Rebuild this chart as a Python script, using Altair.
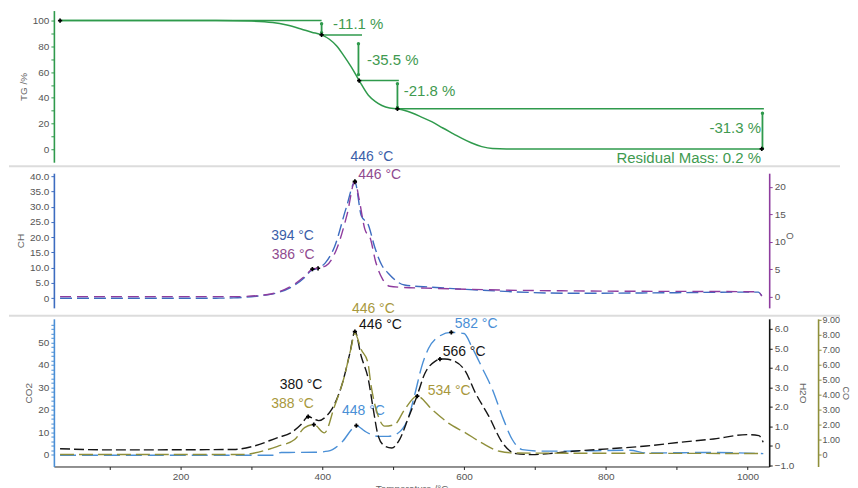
import altair as alt
import pandas as pd

# ---------------- data ----------------
# TG curve (temperature °C, mass %)
TG_T = [30, 250, 300, 330, 350, 370, 385, 399, 410, 420, 430, 441, 452, 465, 475, 484, 495, 506, 520, 540, 555, 570, 585, 597, 610, 625, 640, 660, 1020]
TG_V = [100, 100, 99.6, 98.5, 96.5, 93.5, 91, 88.9, 85.5, 80.5, 73, 63.8, 53.4, 42, 37, 34, 32, 31.4, 29.5, 25, 21.2, 16.5, 12, 8.4, 5, 2, 0.5, 0.2, 0.2]
TG_STEP_T1 = [30, 399, 452, 506]
TG_STEP_T2 = [399, 456, 508, 1023]
TG_STEP_V = [100, 88.9, 53.4, 31.4]
TG_ARROW_T = [399, 451, 506, 1021]
TG_ARROW_TOP = [97.5, 82, 51, 28]
TG_ARROW_BOT = [90.5, 58, 32.5, 0.5]
TG_MARK_T = [30, 399, 452, 506, 1020]
TG_MARK_V = [100, 88.9, 53.4, 31.4, 0.2]
TG_LAB_L = ["-11.1 %", "-35.5 %", "-21.8 %"]
TG_LAB_L_T = [415, 463, 515]
TG_LAB_L_V = [97.7, 69, 45]
TG_LAB_R = ["-31.3 %", "Residual Mass: 0.2 %"]
TG_LAB_R_T = [1019, 1019]
TG_LAB_R_V = [16.3, -7]

# CH (left axis, middle panel)
CH_T = [30, 250, 275, 318, 337, 361, 375, 384, 394, 404, 417, 434, 446, 455, 465, 474, 484, 493, 516, 555, 625, 753, 900, 1000, 1015, 1020]
CH_V = [0, 0, 0.1, 1.0, 1.8, 4.3, 6.8, 9.0, 9.8, 11.5, 16.7, 29.8, 38.0, 27, 24, 16.7, 10.8, 8.2, 4.3, 3.6, 2.6, 1.6, 1.8, 2.0, 2.0, 0.8]
CH_PEAK_T = [394, 446]
CH_PEAK_V = [9.8, 38.0]
CH_LAB = ["394 °C", "446 °C"]
CH_LAB_T = [358, 470]
CH_LAB_V = [20.4, 46.2]

# O (right axis, middle panel)
O_T = [30, 280, 318, 337, 361, 375, 386, 394, 405, 420, 435, 446, 452, 460, 468, 475, 485, 495, 510, 560, 650, 800, 1000, 1015, 1020]
O_V = [0, 0, 0.3, 0.8, 2.3, 3.7, 5.0, 5.2, 5.6, 8.6, 15, 21, 17.7, 12.3, 10.5, 6.5, 3.2, 1.9, 1.7, 1.5, 1.2, 1.0, 0.9, 0.85, 0.1]
O_PEAK_T = [386, 446]
O_PEAK_V = [5.0, 21.0]
O_LAB = ["386 °C", "446 °C"]
O_LAB_T = [359, 481]
O_LAB_V = [7.6, 22.25]

# CO2 (left axis, bottom panel)
CO2_T = [30, 330, 342, 389, 408, 427, 444, 448, 460, 469, 479, 493, 507, 522, 531, 540, 550, 564, 582, 600, 611, 625, 640, 654, 668, 682, 711, 739, 834, 857, 947, 1022]
CO2_V = [-0.3, -0.3, 0.9, 1.0, 1.5, 5.3, 12, 12.9, 10.4, 8.9, 8.1, 8.1, 9.6, 17, 27.5, 39, 47.4, 52.6, 54.5, 54, 48, 39, 29, 17, 6.7, 2.2, 1.5, 1.5, 1.9, 0.7, 0.9, 0.4]
CO2_PEAK_T = [448, 582]
CO2_PEAK_V = [12.9, 54.5]
CO2_LAB = ["448 °C", "582 °C"]
CO2_LAB_T = [458, 617]
CO2_LAB_V = [19.3, 58.3]

# H2O (first right axis, bottom panel)
H2O_T = [30, 100, 275, 304, 337, 356, 370, 380, 395, 405, 413, 427, 439, 446, 455, 465, 472, 479, 488, 498, 509, 522, 533, 545, 559, 566, 573, 587, 602, 616, 635, 654, 673, 696, 720, 753, 810, 857, 905, 952, 999, 1016, 1022]
H2O_V = [-0.14, -0.2, -0.18, 0.0, 0.43, 0.68, 1.1, 1.5, 1.3, 1.5, 1.86, 3.05, 4.77, 5.86, 4.58, 3.4, 1.86, 0.5, 0.0, -0.1, 0.33, 1.5, 2.5, 3.74, 4.33, 4.45, 4.45, 4.33, 3.82, 2.72, 1.52, 0.17, -0.39, -0.44, -0.39, -0.27, -0.13, 0.0, 0.19, 0.36, 0.58, 0.53, 0.19]
H2O_PEAK_T = [380, 446, 566]
H2O_PEAK_V = [1.5, 5.86, 4.45]
H2O_LAB = ["380 °C", "446 °C", "566 °C"]
H2O_LAB_T = [370, 482, 600]
H2O_LAB_V = [3.14, 6.2, 4.82]

# CO (second right axis, bottom panel)
CO_T = [30, 290, 304, 337, 361, 375, 388, 403, 417, 431, 440, 446, 455, 464, 469, 479, 488, 502, 516, 534, 555, 578, 602, 625, 650, 673, 1022]
CO_V = [0, 0, 0.1, 0.55, 1.0, 1.8, 2.0, 1.45, 3.2, 5.2, 7.0, 8.1, 7.0, 6.2, 4.55, 2.55, 1.9, 2.0, 3.0, 3.9, 3.0, 2.1, 1.45, 0.78, 0.22, 0.1, 0.07]
CO_PEAK_T = [388, 534]
CO_PEAK_V = [2.0, 3.9]
CO_LAB = ["388 °C", "446 °C", "534 °C"]
CO_LAB_T = [358, 472, 579]
CO_LAB_V = [3.4, 9.75, 4.27]

X_TICKS = list(range(100, 1001, 100))

# ---------------- styling ----------------
FONT = "Liberation Sans"
GREEN = "#2f9a4c"
GREEN_TXT = "#3f9a50"
CH_BLUE = "#3d6cc0"
CH_TXT = "#3a5ea8"
PURPLE = "#8e3c9e"
PURPLE_TXT = "#8f4a8f"
CO2_BLUE = "#4a8fd6"
BLACK = "#151515"
OLIVE = "#8f8f3a"
OLIVE_TXT = "#a8983c"
SEP = "#dcdcdc"

W = 717
XDOM = [21.3, 1030.5]

x_axis = alt.Axis(values=X_TICKS, labelExpr="datum.value % 200 == 0 ? format(datum.value, 'd') : ''",
                  title="Temperature /°C",
                  domainColor="#222", tickColor="#222", tickSize=3, labelFontSize=10, labelColor="#555",
                  titleFontSize=10, titleColor="#666", titleFontWeight="normal", labelFont=FONT, titleFont=FONT,
                  grid=False, titlePadding=2)


def xenc(axis=None):
    return alt.X("T:Q", scale=alt.Scale(domain=XDOM, nice=False, zero=False), axis=axis)


def df(**cols):
    return pd.DataFrame(cols)


def series_layer(T, V, yenc, color, dash, peakT, peakV, labs, labT, labV, txtcolor, xaxis=None):
    base_line = alt.Chart(df(T=T, v=V)).mark_line(
        color=color, strokeWidth=1.4, strokeDash=dash, interpolate="monotone"
    ).encode(x=xenc(xaxis), y=yenc)
    pts = alt.Chart(df(T=peakT, v=peakV)).mark_point(
        shape="cross", filled=True, size=18, color="#000", opacity=1
    ).encode(x=xenc(xaxis), y=yenc)
    txt = alt.Chart(df(T=labT, v=labV, lab=labs)).mark_text(
        font=FONT, fontSize=14, color=txtcolor, align="center", baseline="middle"
    ).encode(x=xenc(xaxis), y=yenc, text="lab:N")
    return alt.layer(base_line, pts, txt)


def num_axis(values, fmt_expr, title, color, orient="left", offset=0, angle=None, **kw):
    args = dict(
        values=values, labelExpr=fmt_expr, title=title, orient=orient, offset=offset,
        domainColor=color, tickColor=color, domainWidth=1.6, tickSize=3,
        labelFontSize=10, labelColor="#555", titleFontSize=10, titleColor="#666",
        titleFontWeight="normal", labelFont=FONT, titleFont=FONT, grid=False, titlePadding=4,
    )
    if angle is not None:
        args["titleAngle"] = angle
    args.update(kw)
    return alt.Axis(**args)


# ---------------- top panel (TG) ----------------
yTG = alt.Y("v:Q", scale=alt.Scale(domain=[-10.1, 107.8], nice=False, zero=False),
            axis=num_axis(list(range(0, 101, 10)), "datum.value % 20 == 0 ? datum.label : ''", "TG /%", GREEN))

tg_line = alt.Chart(df(T=TG_T, v=TG_V)).mark_line(color=GREEN, strokeWidth=1.5, interpolate="monotone").encode(
    x=xenc(), y=yTG)
tg_steps = alt.Chart(df(T=TG_STEP_T1, T2=TG_STEP_T2, v=TG_STEP_V)).mark_rule(color=GREEN, strokeWidth=1.5).encode(
    x=xenc(), x2=alt.X2("T2:Q"), y=yTG)
tg_arrows = alt.Chart(df(T=TG_ARROW_T, v=TG_ARROW_TOP, v2=TG_ARROW_BOT)).mark_rule(color=GREEN, strokeWidth=1.8).encode(
    x=xenc(), y=yTG, y2=alt.Y2("v2:Q"))
tg_arrow_ends = alt.Chart(df(T=TG_ARROW_T + TG_ARROW_T, v=TG_ARROW_TOP + TG_ARROW_BOT)).mark_point(
    shape="circle", filled=True, size=12, color=GREEN, opacity=1).encode(x=xenc(), y=yTG)
tg_marks = alt.Chart(df(T=TG_MARK_T, v=TG_MARK_V)).mark_point(
    shape="cross", filled=True, size=18, color="#000", opacity=1).encode(x=xenc(), y=yTG)
tg_lab_l = alt.Chart(df(T=TG_LAB_L_T, v=TG_LAB_L_V, lab=TG_LAB_L)).mark_text(
    font=FONT, fontSize=15, color=GREEN_TXT, align="left", baseline="middle").encode(x=xenc(), y=yTG, text="lab:N")
tg_lab_r = alt.Chart(df(T=TG_LAB_R_T, v=TG_LAB_R_V, lab=TG_LAB_R)).mark_text(
    font=FONT, fontSize=15, color=GREEN_TXT, align="right", baseline="middle").encode(x=xenc(), y=yTG, text="lab:N")

top = alt.layer(tg_steps, tg_line, tg_arrows, tg_arrow_ends, tg_marks, tg_lab_l, tg_lab_r).properties(width=W, height=152)

# ---------------- middle panel (CH / O) ----------------
yCH = alt.Y("v:Q", scale=alt.Scale(domain=[-3.17, 40.95], nice=False, zero=False),
            axis=num_axis(list(range(0, 41, 5)), "datum.value == 0 ? '0' : format(datum.value, '.1f')", "CH", CH_BLUE))
yO = alt.Y("v:Q", scale=alt.Scale(domain=[-2.05, 22.5], nice=False, zero=False),
           axis=num_axis([0, 5, 10, 15, 20], "datum.label", "O", PURPLE, orient="right", angle=0))

ch_layer = series_layer(CH_T, CH_V, yCH, CH_BLUE, [12, 5], CH_PEAK_T, CH_PEAK_V, CH_LAB, CH_LAB_T, CH_LAB_V, CH_TXT)
o_layer = series_layer(O_T, O_V, yO, PURPLE, [11, 6], O_PEAK_T, O_PEAK_V, O_LAB, O_LAB_T, O_LAB_V, PURPLE_TXT)
sep1 = alt.Chart(df(T=[0])).mark_rule(color=SEP, strokeWidth=2).encode(
    x=alt.value(-45), x2=alt.value(788), y=alt.value(-7))

middle = alt.layer(sep1, ch_layer, o_layer).resolve_scale(y="independent").properties(width=W, height=135)

# ---------------- bottom panel (CO2 / H2O / CO) ----------------
yCO2 = alt.Y("v:Q", scale=alt.Scale(domain=[-5.34, 60.55], nice=False, zero=False),
             axis=num_axis(list(range(0, 59, 2)), "datum.value % 10 == 0 ? datum.label : ''", "CO2", CO2_BLUE))
yH2O = alt.Y("v:Q", scale=alt.Scale(domain=[-1.05, 6.51], nice=False, zero=False),
             axis=num_axis(list(range(-1, 7)), "datum.value == 0 ? '0' : format(datum.value, '.1f')", "H2O", BLACK,
                           orient="right", angle=90))
yCO = alt.Y("v:Q", scale=alt.Scale(domain=[-0.8, 9.07], nice=False, zero=False),
            axis=num_axis(list(range(0, 10)), "datum.value == 0 ? '0' : format(datum.value, '.2f')", "CO", OLIVE,
                          orient="right", offset=49, angle=90, labelFontSize=9, titleFontSize=9,
                          titlePadding=1, labelPadding=1))

co2_layer = series_layer(CO2_T, CO2_V, yCO2, CO2_BLUE, [16, 6], CO2_PEAK_T, CO2_PEAK_V, CO2_LAB, CO2_LAB_T, CO2_LAB_V,
                         CO2_BLUE, xaxis=x_axis)
h2o_layer = series_layer(H2O_T, H2O_V, yH2O, BLACK, [10, 4], H2O_PEAK_T, H2O_PEAK_V, H2O_LAB, H2O_LAB_T, H2O_LAB_V,
                         BLACK, xaxis=x_axis)
co_layer = series_layer(CO_T, CO_V, yCO, OLIVE, [14, 5], CO_PEAK_T, CO_PEAK_V, CO_LAB, CO_LAB_T, CO_LAB_V,
                        OLIVE_TXT, xaxis=x_axis)
sep2 = alt.Chart(df(T=[0])).mark_rule(color=SEP, strokeWidth=2).encode(
    x=alt.value(-45), x2=alt.value(788), y=alt.value(-3))

bottom = alt.layer(sep2, co2_layer, h2o_layer, co_layer).resolve_scale(y="independent").properties(width=W, height=148)

chart = alt.vconcat(top, middle, bottom, spacing=11, bounds="flush").properties(
    padding={"left": 0, "top": 2, "right": 0, "bottom": 0}, background="white"
).configure_view(stroke=None)

chart.save("out.html", embed_options={"renderer": "svg", "actions": False})
